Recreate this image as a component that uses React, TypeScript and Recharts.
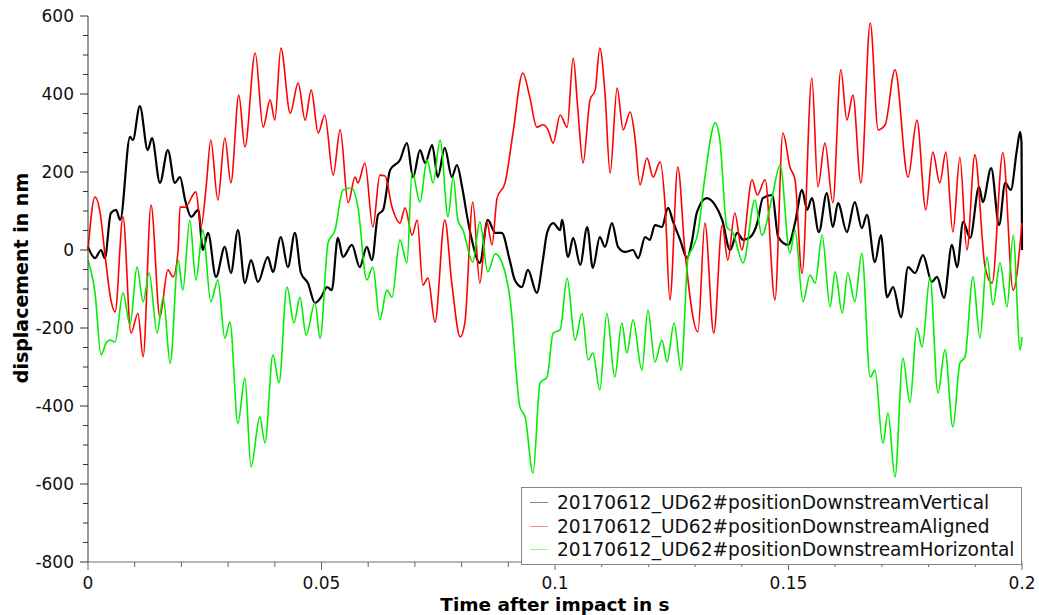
import React from 'react';
import { LineChart, Line, XAxis, YAxis, Legend, Label } from 'recharts';

// [time in s, displacement in nm]
const verticalPoints: [number, number][] = [
  [0, 8], [0.0015, -21], [0.0028, 0], [0.0036, -21], [0.0049, 95], [0.006, 103], [0.0069, 77],
  [0.009, 290], [0.0096, 282], [0.0111, 369], [0.0128, 256], [0.0137, 287], [0.0154, 172],
  [0.0171, 256], [0.0186, 172], [0.0197, 187], [0.0208, 128], [0.0221, 85], [0.0236, 103],
  [0.0246, 0], [0.0257, 44], [0.0274, -69], [0.0293, 8], [0.0306, -59], [0.0321, 51],
  [0.0336, -85], [0.0349, -26], [0.0364, -82], [0.0385, -18], [0.0396, -56], [0.0413, 33],
  [0.0428, -44], [0.0443, 44], [0.0456, -59], [0.0471, -85], [0.0486, -136], [0.0499, -121],
  [0.0512, -95], [0.0522, -103], [0.0535, 31], [0.0546, -18], [0.0565, 13], [0.0582, -44],
  [0.0597, 8], [0.0608, -26], [0.0621, 90], [0.0632, 103], [0.0647, 205], [0.0668, 231],
  [0.0683, 274], [0.0696, 187], [0.0711, 256], [0.0722, 223], [0.0737, 269], [0.0749, 187],
  [0.0764, 262], [0.0779, 187], [0.079, 218], [0.0801, 162], [0.0812, 85], [0.0822, 26],
  [0.0839, -33], [0.0856, 77], [0.0872, 44], [0.0886, 44], [0.0903, -26], [0.0914, -77],
  [0.0929, -95], [0.0942, -51], [0.0961, -110], [0.0974, -26], [0.0983, 44], [0.0996, 69],
  [0.1011, 51], [0.1015, 77], [0.1028, -18], [0.1039, 31], [0.1054, -38], [0.1069, 59],
  [0.1081, -46], [0.1096, 33], [0.1107, 8], [0.1122, 69], [0.1135, 8], [0.115, -5],
  [0.1167, 0], [0.1178, -21], [0.1193, 33], [0.1203, 26], [0.1214, 64], [0.1229, 59],
  [0.1242, 108], [0.1253, 72], [0.1268, 26], [0.1283, -21], [0.1293, 21], [0.1304, 97],
  [0.1325, 133], [0.1343, 115], [0.1358, 77], [0.1375, 0], [0.139, 44], [0.1403, 26],
  [0.1418, 33], [0.1433, 69], [0.1445, 133], [0.1465, 141], [0.1478, 33], [0.1499, 13],
  [0.1514, 69], [0.1529, 154], [0.154, 103], [0.155, 133], [0.1565, 46], [0.1582, 146],
  [0.1595, 59], [0.1606, 120], [0.1625, 46], [0.1642, 123], [0.1657, 56], [0.1668, 90],
  [0.1685, -31], [0.1698, 38], [0.1711, -121], [0.1724, -95], [0.1741, -172], [0.1756, -44],
  [0.1771, -59], [0.1788, -13], [0.1807, -82], [0.1818, -69], [0.1833, -123], [0.185, 13],
  [0.1861, -44], [0.1874, 72], [0.1889, 31], [0.1908, 162], [0.1916, 123], [0.1934, 210],
  [0.1951, 64], [0.1964, 172], [0.1976, 154], [0.1989, 256], [0.1996, 303], [0.1999, 274],
  [0.2, 0],
];

const alignedPoints: [number, number][] = [
  [0, 0], [0.0015, 136], [0.0026, 95], [0.0036, -8], [0.0049, -128], [0.0058, -159],
  [0.0075, 85], [0.0092, -213], [0.0107, -162], [0.0118, -274], [0.0135, 115], [0.0154, -172],
  [0.0171, -51], [0.0182, -69], [0.0193, 0], [0.0197, 110], [0.0208, 110], [0.0231, 149],
  [0.0242, 59], [0.0253, 162], [0.0263, 282], [0.0278, 128], [0.0293, 287], [0.0306, 172],
  [0.0323, 397], [0.0336, 264], [0.0358, 505], [0.0375, 315], [0.039, 385], [0.04, 333],
  [0.0413, 518], [0.0433, 351], [0.045, 428], [0.0465, 333], [0.0478, 410], [0.0493, 300],
  [0.0507, 346], [0.0525, 192], [0.054, 308], [0.0557, 121], [0.0572, 187], [0.0578, 172],
  [0.0593, 223], [0.061, 59], [0.0625, 192], [0.0636, 190], [0.0651, 110], [0.0668, 69],
  [0.0679, 108], [0.0694, 38], [0.0705, 77], [0.0717, -90], [0.0728, -72], [0.0743, -185],
  [0.0764, 77], [0.0779, -85], [0.0797, -223], [0.0807, -187], [0.0824, 123], [0.0839, -85],
  [0.0854, 72], [0.0865, 13], [0.0876, 133], [0.0893, 172], [0.091, 300], [0.0931, 454],
  [0.0946, 392], [0.0961, 315], [0.0974, 321], [0.0985, 308], [0.0996, 274], [0.1011, 346],
  [0.1026, 315], [0.1039, 492], [0.1049, 359], [0.106, 223], [0.1075, 385], [0.1086, 410],
  [0.1096, 518], [0.1107, 403], [0.1118, 197], [0.1133, 415], [0.1146, 308], [0.1161, 354],
  [0.1171, 290], [0.1182, 167], [0.1197, 236], [0.121, 187], [0.1225, 226], [0.1236, 110],
  [0.1246, -128], [0.1263, 213], [0.1278, 0], [0.1306, -210], [0.1321, 69], [0.134, -213],
  [0.1358, 64], [0.137, -26], [0.1385, 95], [0.14, 0], [0.1422, 180], [0.1433, 141],
  [0.145, 180], [0.1471, -128], [0.1488, 300], [0.1503, 213], [0.1514, 180], [0.1529, -60],
  [0.155, 441], [0.1563, 162], [0.1578, 274], [0.1595, 121], [0.1612, 462], [0.1625, 333],
  [0.1638, 397], [0.1655, 172], [0.1675, 582], [0.1692, 308], [0.1707, 321], [0.1728, 462],
  [0.1756, 187], [0.1775, 333], [0.1794, 103], [0.1809, 251], [0.1824, 172], [0.1837, 251],
  [0.1852, 46], [0.1867, 238], [0.1882, 0], [0.1899, 244], [0.1921, -44], [0.1936, -85],
  [0.1959, 249], [0.1981, -103], [0.2, 69],
];

const horizontalPoints: [number, number][] = [
  [0, -26], [0.0015, -110], [0.0028, -269], [0.0039, -238], [0.0047, -231], [0.0058, -236],
  [0.0075, -110], [0.009, -192], [0.0105, -44], [0.0118, -133], [0.0131, -59], [0.0148, -213],
  [0.0161, -121], [0.0176, -290], [0.0193, -26], [0.0203, -103], [0.0218, 77], [0.0231, -77],
  [0.0246, 51], [0.0263, -133], [0.0278, -77], [0.0293, -226], [0.0304, -185], [0.0321, -444],
  [0.0336, -328], [0.0349, -556], [0.0368, -428], [0.0379, -495], [0.0396, -269], [0.0409, -341],
  [0.0426, -95], [0.0441, -187], [0.0454, -121], [0.0467, -218], [0.0486, -136], [0.0497, -226],
  [0.0514, 18], [0.0529, 51], [0.0546, 154], [0.0565, 159], [0.0578, 110], [0.0597, -77],
  [0.061, -44], [0.0625, -179], [0.064, -103], [0.0651, -121], [0.0668, 26], [0.0683, -33],
  [0.0694, 200], [0.0711, 123], [0.0726, 231], [0.0739, 172], [0.0754, 282], [0.0771, 85],
  [0.0782, 187], [0.0792, 77], [0.0803, 51], [0.0824, -31], [0.0839, 72], [0.0856, -56],
  [0.0872, -10], [0.0886, -31], [0.0904, -128], [0.0925, -403], [0.0936, -428], [0.0953, -572],
  [0.0968, -341], [0.0983, -326], [0.0996, -213], [0.1011, -205], [0.1026, -72], [0.1043, -231],
  [0.1058, -162], [0.1071, -282], [0.1081, -264], [0.1096, -359], [0.1111, -162], [0.1128, -326],
  [0.1143, -187], [0.1154, -264], [0.1167, -179], [0.1186, -308], [0.1199, -154], [0.1214, -287],
  [0.1229, -231], [0.124, -287], [0.1255, -187], [0.127, -308], [0.1285, -18], [0.1296, 8],
  [0.1306, 44], [0.1321, 187], [0.1343, 326], [0.1353, 282], [0.1368, 59], [0.1381, 44],
  [0.1403, -33], [0.1428, 128], [0.1443, 38], [0.1465, 136], [0.1482, 218], [0.1503, -8],
  [0.1514, 51], [0.1531, -133], [0.1546, -64], [0.1557, -85], [0.1572, 38], [0.1589, -146],
  [0.16, -56], [0.1615, -162], [0.1627, -59], [0.1642, -133], [0.1657, -8], [0.1675, -326],
  [0.1685, -308], [0.1702, -495], [0.1713, -418], [0.1728, -582], [0.1745, -277], [0.176, -392],
  [0.1775, -200], [0.1786, -249], [0.1803, -69], [0.182, -367], [0.1835, -256], [0.1852, -454],
  [0.1867, -290], [0.1878, -274], [0.1895, -69], [0.191, -226], [0.1925, -18], [0.1938, -141],
  [0.1953, -33], [0.1968, -146], [0.1981, 38], [0.1996, -256], [0.2, -223],
];

const xTicks = [0, 0.01, 0.02, 0.03, 0.04, 0.05, 0.06, 0.07, 0.08, 0.09, 0.1,
  0.11, 0.12, 0.13, 0.14, 0.15, 0.16, 0.17, 0.18, 0.19, 0.2];
const xLabels = ['0', '0.05', '0.1', '0.15', '0.2'];
const yTicks = [-800, -750, -700, -650, -600, -550, -500, -450, -400, -350, -300, -250, -200,
  -150, -100, -50, 0, 50, 100, 150, 200, 250, 300, 350, 400, 450, 500, 550, 600];
const yLabels = [-800, -600, -400, -200, 0, 200, 400, 600];

const seriesNames = [
  '20170612_UD62#positionDownstreamVertical',
  '20170612_UD62#positionDownstreamAligned',
  '20170612_UD62#positionDownstreamHorizontal',
];

const LINE_COLORS = ['#000000', '#ff0000', '#00ee00'];
const LEGEND_COLORS = ['#8a8a8a', '#ff8c8c', '#8cff8c'];

const FONT = '"DejaVu Sans", sans-serif';
const AXIS_X = 88;
const AXIS_Y = 562;

const toRows = (pts: [number, number][]) => pts.map(([t, v]) => ({ t, v }));

const YTick = (props: any) => {
  const { y, payload } = props;
  const major = yLabels.includes(payload.value);
  return (
    <g>
      <line x1={AXIS_X - (major ? 8 : 5)} x2={AXIS_X} y1={y} y2={y} stroke="#333" />
      {major && (
        <text x={AXIS_X - 14} y={y} textAnchor="end" dominantBaseline="central"
          fontFamily={FONT} fontSize={17} fill="#111">
          {payload.value}
        </text>
      )}
    </g>
  );
};

const XTick = (props: any) => {
  const { x, payload } = props;
  const label = String(payload.value);
  const major = xLabels.includes(label);
  return (
    <g>
      <line x1={x} x2={x} y1={AXIS_Y} y2={AXIS_Y + (major ? 8 : 5)} stroke="#666" />
      {major && (
        <text x={x} y={AXIS_Y + 21} textAnchor="middle" dominantBaseline="central"
          fontFamily={FONT} fontSize={17} fill="#111">
          {label}
        </text>
      )}
    </g>
  );
};

const LegendBox = () => (
  <div style={{ border: '1px solid #888', background: '#fff', padding: '3px 0 2px 8px', fontFamily: FONT, fontSize: 18.6, color: '#111' }}>
    {seriesNames.map((name, i) => (
      <div key={name} style={{ display: 'flex', alignItems: 'center', height: 23.5, whiteSpace: 'nowrap' }}>
        <span style={{ display: 'inline-block', width: 18, height: 0, borderTop: `1.5px solid ${LEGEND_COLORS[i]}`, marginRight: 9 }} />
        {name}
      </div>
    ))}
  </div>
);

export default function App() {
  const series = [verticalPoints, alignedPoints, horizontalPoints];
  return (
    <div style={{ position: 'absolute', left: 0, top: 0, width: 1039, height: 615, background: '#fff' }}>
      <LineChart width={1039} height={615} margin={{ top: 16, right: 17, bottom: 0, left: 0 }}>
        <XAxis
          dataKey="t"
          type="number"
          domain={[0, 0.2]}
          ticks={xTicks}
          interval={0}
          tick={<XTick />}
          tickLine={false}
          axisLine={{ stroke: '#6e6e6e' }}
          height={53}
          allowDuplicatedCategory={false}
        >
          <Label
            content={() => (
              <text x={555} y={604} textAnchor="middle" dominantBaseline="central"
                fontFamily={FONT} fontSize={18.5} fontWeight="bold" fill="#000">
                Time after impact in s
              </text>
            )}
          />
        </XAxis>
        <YAxis
          type="number"
          domain={[-800, 600]}
          ticks={yTicks}
          interval={0}
          tick={<YTick />}
          tickLine={false}
          axisLine={{ stroke: '#333' }}
          width={88}
        >
          <Label
            content={() => (
              <text x={21} y={278} transform="rotate(-90 21 278)" textAnchor="middle"
                dominantBaseline="central" fontFamily={FONT} fontSize={19} fontWeight="bold" fill="#000">
                displacement in nm
              </text>
            )}
          />
        </YAxis>
        {series.map((pts, i) => (
          <Line
            key={seriesNames[i]}
            data={toRows(pts)}
            dataKey="v"
            name={seriesNames[i]}
            type="monotone"
            stroke={LINE_COLORS[i]}
            strokeWidth={i === 0 ? 2.2 : 1.6}
            dot={false}
            activeDot={false}
            isAnimationActive={false}
          />
        ))}
        <Legend
          layout="vertical"
          align="center"
          verticalAlign="middle"
          content={<LegendBox />}
          wrapperStyle={{ position: 'absolute', left: 521, top: 487, width: 501 }}
        />
      </LineChart>
    </div>
  );
}
